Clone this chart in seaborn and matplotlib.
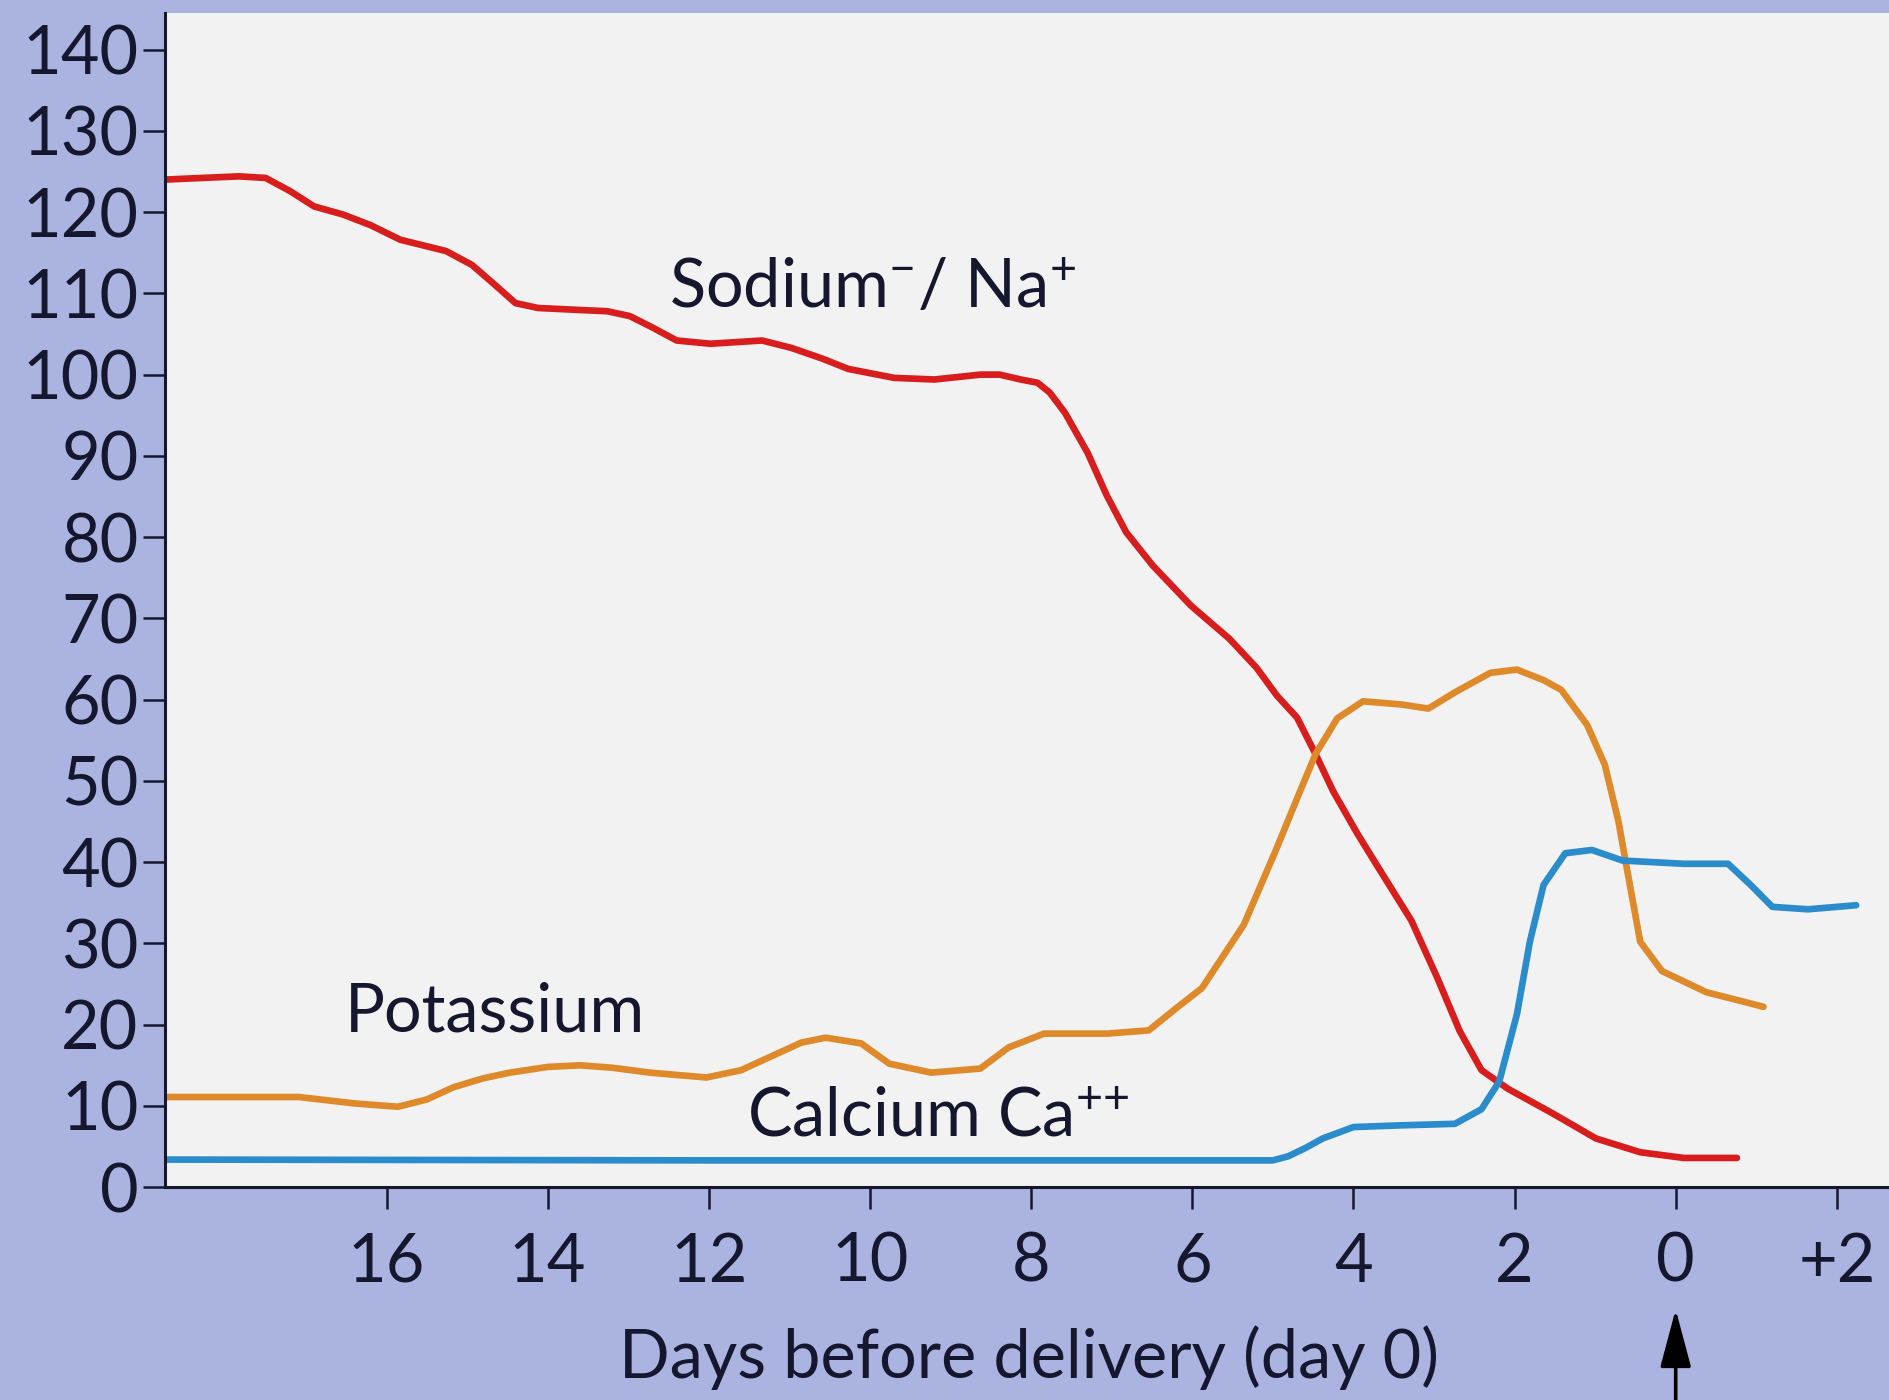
import numpy as np
import pandas as pd
import matplotlib
matplotlib.use("Agg")
import matplotlib.pyplot as plt
import seaborn as sns

# ---- data (days relative to delivery; negative = before) ----
sodium_day = [-18.75, -18.3, -17.83, -17.5, -17.2, -16.9, -16.54, -16.2, -15.83, -15.26, -14.94,
              -14.65, -14.4, -14.12, -13.7, -13.26, -12.98, -12.7, -12.4, -11.98, -11.34, -10.98,
              -10.6, -10.27, -9.7, -9.2, -8.63, -8.39, -8.13, -7.92, -7.77, -7.58, -7.3, -7.06,
              -6.82, -6.49, -6.02, -5.54, -5.2, -4.95, -4.7, -4.47, -4.25, -3.95, -3.72, -3.28,
              -2.96, -2.68, -2.41, -2.08, -1.53, -0.99, -0.44, 0.1, 0.76]
sodium_val = [124.0, 124.2, 124.4, 124.2, 122.6, 120.7, 119.7, 118.4, 116.6, 115.2, 113.5,
              111.0, 108.8, 108.2, 108.0, 107.8, 107.2, 105.8, 104.2, 103.8, 104.2, 103.3,
              102.0, 100.7, 99.6, 99.4, 100.0, 100.0, 99.4, 99.0, 97.8, 95.3, 90.4, 85.1,
              80.6, 76.5, 71.6, 67.5, 63.9, 60.5, 57.8, 53.3, 48.7, 43.5, 39.8, 32.8,
              25.8, 19.2, 14.4, 12.1, 9.1, 6.0, 4.3, 3.6, 3.6]

potassium_day = [-18.75, -17.09, -16.39, -15.86, -15.5, -15.17, -14.8, -14.47, -14.0, -13.6, -13.2,
                 -12.73, -12.03, -11.6, -11.16, -10.85, -10.55, -10.11, -9.76, -9.24, -8.63, -8.28,
                 -7.84, -7.06, -6.54, -6.19, -5.88, -5.36, -4.97, -4.68, -4.47, -4.2, -3.88, -3.4,
                 -3.07, -2.74, -2.3, -1.97, -1.64, -1.42, -1.1, -0.88, -0.71, -0.6, -0.44, -0.17,
                 0.38, 1.09]
potassium_val = [11.1, 11.1, 10.3, 9.9, 10.8, 12.3, 13.4, 14.1, 14.8, 15.0, 14.7,
                 14.1, 13.5, 14.4, 16.4, 17.8, 18.4, 17.7, 15.2, 14.1, 14.6, 17.2,
                 18.9, 18.9, 19.3, 22.1, 24.5, 32.3, 41.3, 48.3, 53.3, 57.7, 59.8, 59.4,
                 58.9, 60.9, 63.3, 63.7, 62.4, 61.2, 56.9, 52.0, 45.0, 38.9, 30.2, 26.6,
                 24.0, 22.2]

calcium_day = [-18.75, -12.0, -5.0, -4.81, -4.6, -4.38, -4.0, -3.45, -2.74, -2.41, -2.19, -1.97,
               -1.81, -1.64, -1.37, -1.04, -0.66, 0.1, 0.65, 0.93, 1.2, 1.64, 2.24]
calcium_val = [3.4, 3.3, 3.3, 3.8, 4.8, 6.0, 7.4, 7.6, 7.8, 9.6, 13.0, 21.3,
               30.2, 37.2, 41.1, 41.5, 40.2, 39.8, 39.8, 37.2, 34.5, 34.2, 34.7]

x_ticks = [-16, -14, -12, -10, -8, -6, -4, -2, 0, 2]
x_tick_labels = ["16", "14", "12", "10", "8", "6", "4", "2", "0", "+2"]
y_ticks = [0, 10, 20, 30, 40, 50, 60, 70, 80, 90, 100, 110, 120, 130, 140]

labels = {
    "sodium": "Sodium$^{-}$/ Na$^{+}$",
    "potassium": "Potassium",
    "calcium": "Calcium Ca$^{{+}{+}}$",
}
x_label = "Days before delivery (day 0)"

# ---- style ----
sns.set_theme(style="ticks")
plt.rcParams["font.family"] = ["Lato", "DejaVu Sans"]
plt.rcParams["mathtext.fontset"] = "custom"
plt.rcParams["mathtext.rm"] = "Lato"
plt.rcParams["mathtext.it"] = "Lato"

outer_bg = "#abb4e0"
inner_bg = "#f2f2f2"
ink = "#15172e"
fs = 48

fig = plt.figure(figsize=(18.9, 14.0), dpi=100, facecolor=outer_bg)
ax = fig.add_axes([0.0873, 0.152, 0.9127, 0.8387])
ax.set_facecolor(inner_bg)

df_na = pd.DataFrame({"day": sodium_day, "value": sodium_val})
df_k = pd.DataFrame({"day": potassium_day, "value": potassium_val})
df_ca = pd.DataFrame({"day": calcium_day, "value": calcium_val})

lw = 4.8
kw = dict(lw=lw, solid_joinstyle="round", solid_capstyle="round")
sns.lineplot(data=df_na, x="day", y="value", ax=ax, color="#d81d1d", **kw)
sns.lineplot(data=df_k, x="day", y="value", ax=ax, color="#df8a2a", **kw)
sns.lineplot(data=df_ca, x="day", y="value", ax=ax, color="#2b8ccc", **kw)

ax.set_xlim(-18.75, 2.66)
ax.set_ylim(0, 144.5)
ax.set_xticks(x_ticks)
ax.set_xticklabels(x_tick_labels)
ax.set_yticks(y_ticks)
ax.tick_params(axis="both", direction="out", length=16, width=1.8, color=ink,
               labelsize=fs, labelcolor=ink)
ax.tick_params(axis="y", pad=3)
ax.tick_params(axis="x", pad=16)

sns.despine(ax=ax, top=True, right=True)
for s in ("left", "bottom"):
    ax.spines[s].set_color(ink)
    ax.spines[s].set_linewidth(2.2)

ax.set_xlabel("")
ax.set_ylabel("")

# series labels
ax.text(-12.50, 108.2, labels["sodium"], fontsize=fs, color=ink, ha="left", va="baseline")
ax.text(-16.52, 19.2, labels["potassium"], fontsize=fs, color=ink, ha="left", va="baseline")
ax.text(-11.53, 6.2, labels["calcium"], fontsize=fs, color=ink, ha="left", va="baseline")

# x axis label
fig.text(0.5447, 0.016, x_label, fontsize=fs, color=ink, ha="center", va="baseline")

# arrow marking day 0
ax.annotate("", xy=(0, -0.104), xytext=(0, -0.2),
            xycoords=("data", "axes fraction"), textcoords=("data", "axes fraction"),
            arrowprops=dict(arrowstyle="-|>,head_length=3.0,head_width=0.8",
                            color="black", lw=2.6, shrinkA=0, shrinkB=0),
            annotation_clip=False)

fig.savefig("out.png", dpi=100, facecolor=outer_bg)
